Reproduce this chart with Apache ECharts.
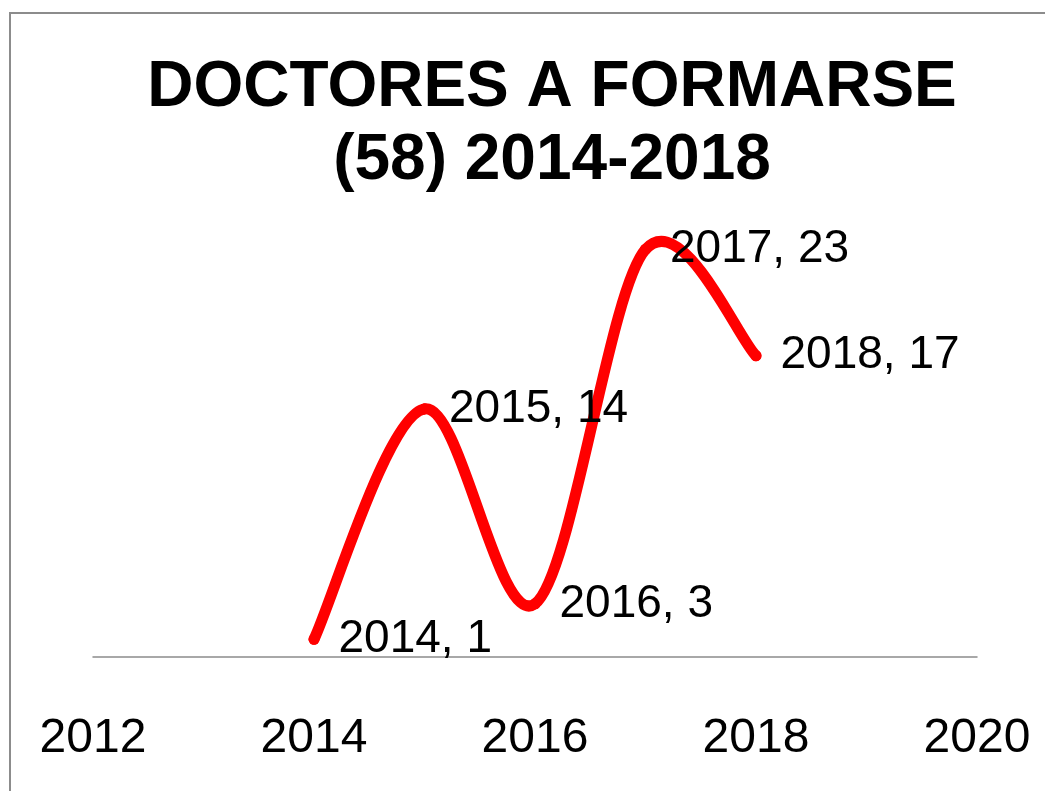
<!DOCTYPE html>
<html>
<head>
<meta charset="utf-8">
<script src="https://cdn.jsdelivr.net/npm/echarts@6/dist/echarts.min.js"></script>
<style>
  html, body { margin: 0; padding: 0; background: #fff; }
  #chart { width: 1045px; height: 791px; }
</style>
</head>
<body>
<div id="chart"></div>
<script>
// datos del gráfico
const years = [2014, 2015, 2016, 2017, 2018];
const doctores = [1, 14, 3, 23, 17];
const xTicks = [2012, 2014, 2016, 2018, 2020];

const points = years.map((y, i) => [y, doctores[i]]);

const chartDom = document.getElementById('chart');
const myChart = echarts.init(chartDom);

// curva suavizada tipo Excel (Catmull-Rom), un tramo por punto
function renderSmoothSegment(params, api) {
  const i = params.dataIndex;
  const n = points.length;
  if (i >= n - 1) return null;
  const p0 = api.coord(points[Math.max(i - 1, 0)]);
  const p1 = api.coord(points[i]);
  const p2 = api.coord(points[i + 1]);
  const p3 = api.coord(points[Math.min(i + 2, n - 1)]);
  return {
    type: 'bezierCurve',
    shape: {
      x1: p1[0], y1: p1[1],
      x2: p2[0], y2: p2[1],
      cpx1: p1[0] + (p2[0] - p0[0]) / 6,
      cpy1: p1[1] + (p2[1] - p0[1]) / 6,
      cpx2: p2[0] - (p3[0] - p1[0]) / 6,
      cpy2: p2[1] - (p3[1] - p1[1]) / 6
    },
    style: {
      fill: null,
      stroke: '#ff0000',
      lineWidth: 11,
      lineCap: 'round'
    }
  };
}

const option = {
  animation: false,
  backgroundColor: '#ffffff',
  title: {
    text: 'DOCTORES A FORMARSE\n(58) 2014-2018',
    left: 547,
    top: 47,
    textAlign: 'center',
    textStyle: {
      fontFamily: '"Liberation Sans", Arial, sans-serif',
      fontWeight: 'bold',
      fontSize: 64,
      lineHeight: 73,
      color: '#000'
    }
  },
  // borde gris del área del gráfico
  graphic: [
    {
      type: 'rect',
      silent: true,
      shape: { x: 10, y: 13, width: 1200, height: 900 },
      style: { fill: 'none', stroke: '#8c8c8c', lineWidth: 2 }
    }
  ],
  grid: {
    left: 93,
    right: 68,
    top: 214,
    bottom: 134
  },
  xAxis: {
    type: 'value',
    min: xTicks[0],
    max: xTicks[xTicks.length - 1],
    interval: 2,
    splitLine: { show: false },
    axisTick: { show: false },
    axisLine: { show: true, lineStyle: { color: '#8c8c8c', width: 1.5 } },
    axisLabel: {
      margin: 58,
      fontFamily: '"Liberation Sans", Arial, sans-serif',
      fontSize: 48,
      color: '#000',
      formatter: (v) => String(v)
    }
  },
  yAxis: {
    type: 'value',
    min: 0,
    max: 25,
    show: false
  },
  series: [
    {
      type: 'custom',
      data: points,
      encode: { x: 0, y: 1 },
      clip: false,
      z: 2,
      renderItem: renderSmoothSegment
    },
    {
      type: 'scatter',
      data: points,
      symbol: 'circle',
      symbolSize: 11,
      z: 3,
      itemStyle: { color: '#ff0000', opacity: 1 },
      label: {
        show: true,
        position: 'right',
        distance: 19,
        fontFamily: '"Liberation Sans", Arial, sans-serif',
        fontSize: 46,
        color: '#000000',
        opacity: 1,
        formatter: (p) => p.value[0] + ', ' + p.value[1]
      }
    }
  ]
};

option && myChart.setOption(option);
</script>
</body>
</html>
